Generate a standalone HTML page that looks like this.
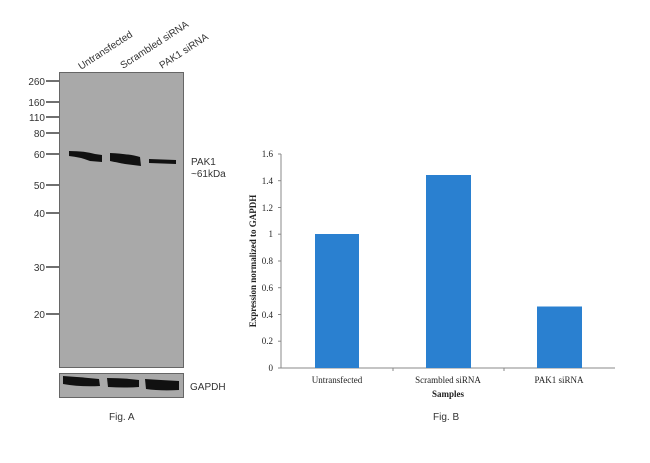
<!DOCTYPE html>
<html><head><style>body{margin:0;background:#fff}</style></head><body>
<svg width="650" height="458" xmlns="http://www.w3.org/2000/svg" font-family="Liberation Sans, sans-serif">
<rect x="0" y="0" width="650" height="458" fill="#fff"/>
<g font-size="10" fill="#333">
<text transform="translate(81,70) rotate(-33)">Untransfected</text>
<text transform="translate(123,69) rotate(-33)">Scrambled siRNA</text>
<text transform="translate(162,69) rotate(-33)">PAK1 siRNA</text>
</g>
<rect x="59.5" y="72.5" width="124" height="295" fill="#a9a9a9" stroke="#666"/>
<rect x="59.5" y="373.5" width="124" height="24" fill="#a9a9a9" stroke="#666"/>
<g stroke="#222" stroke-width="1.3">
<line x1="46" y1="81" x2="59" y2="81"/><line x1="46" y1="102" x2="59" y2="102"/>
<line x1="46" y1="117" x2="59" y2="117"/><line x1="46" y1="133" x2="59" y2="133"/>
<line x1="46" y1="154" x2="59" y2="154"/><line x1="46" y1="185" x2="59" y2="185"/>
<line x1="46" y1="213" x2="59" y2="213"/><line x1="46" y1="267" x2="59" y2="267"/>
<line x1="46" y1="314" x2="59" y2="314"/>
</g>
<g font-size="10" fill="#333" text-anchor="end">
<text x="45" y="85">260</text><text x="45" y="106">160</text><text x="45" y="121">110</text>
<text x="45" y="137">80</text><text x="45" y="158">60</text><text x="45" y="189">50</text>
<text x="45" y="217">40</text><text x="45" y="271">30</text><text x="45" y="318">20</text>
</g>
<g fill="#111">
<path d="M69,151 Q85,151 95,154 L102,155 L102,162 L90,161 Q80,157 69,156 Z"/>
<path d="M110,153 Q130,154 140,157 L141,166 L125,164 Q115,162 110,161 Z"/>
<path d="M149,159 L176,160 L176,164 L149,163 Z"/>
<path d="M63,376 Q80,377 99,379 L100,386 Q80,387 63,384 Z"/>
<path d="M107,378 Q125,378 139,380 L139,387 Q125,388 108,387 Z"/>
<path d="M145,379 Q160,380 179,381 L179,390 Q160,391 146,389 Z"/>
</g>
<g font-size="10" fill="#333">
<text x="191" y="165">PAK1</text><text x="191" y="177">~61kDa</text>
<text x="190" y="390">GAPDH</text>
<text x="109" y="420">Fig. A</text>
<text x="433" y="420">Fig. B</text>
</g>
<g font-family="Liberation Serif, serif" font-size="9" fill="#222">
<line x1="281" y1="154" x2="281" y2="368" stroke="#888"/>
<line x1="281" y1="368" x2="615" y2="368" stroke="#888"/>
<g stroke="#888">
<line x1="278" y1="154" x2="281" y2="154"/><line x1="278" y1="180.7" x2="281" y2="180.7"/>
<line x1="278" y1="207.5" x2="281" y2="207.5"/><line x1="278" y1="234.2" x2="281" y2="234.2"/>
<line x1="278" y1="261" x2="281" y2="261"/><line x1="278" y1="287.7" x2="281" y2="287.7"/>
<line x1="278" y1="314.5" x2="281" y2="314.5"/><line x1="278" y1="341.2" x2="281" y2="341.2"/>
<line x1="278" y1="368" x2="281" y2="368"/>
<line x1="393" y1="368" x2="393" y2="371"/><line x1="504" y1="368" x2="504" y2="371"/>
</g>
<g text-anchor="end">
<text x="273" y="157">1.6</text><text x="273" y="184">1.4</text><text x="273" y="211">1.2</text>
<text x="273" y="237">1</text><text x="273" y="264">0.8</text><text x="273" y="291">0.6</text>
<text x="273" y="318">0.4</text><text x="273" y="344">0.2</text><text x="273" y="371">0</text>
</g>
<rect x="315" y="234" width="44" height="134" fill="#2a80d0"/>
<rect x="426" y="175" width="45" height="193" fill="#2a80d0"/>
<rect x="537" y="306.5" width="45" height="61.5" fill="#2a80d0"/>
<g text-anchor="middle">
<text x="337" y="383">Untransfected</text>
<text x="448" y="383">Scrambled siRNA</text>
<text x="559" y="383">PAK1 siRNA</text>
<text x="448" y="397" font-weight="bold">Samples</text>
<text transform="translate(256,261) rotate(-90)" font-weight="bold">Expression normalized to GAPDH</text>
</g>
</g>
</svg>
</body></html>
